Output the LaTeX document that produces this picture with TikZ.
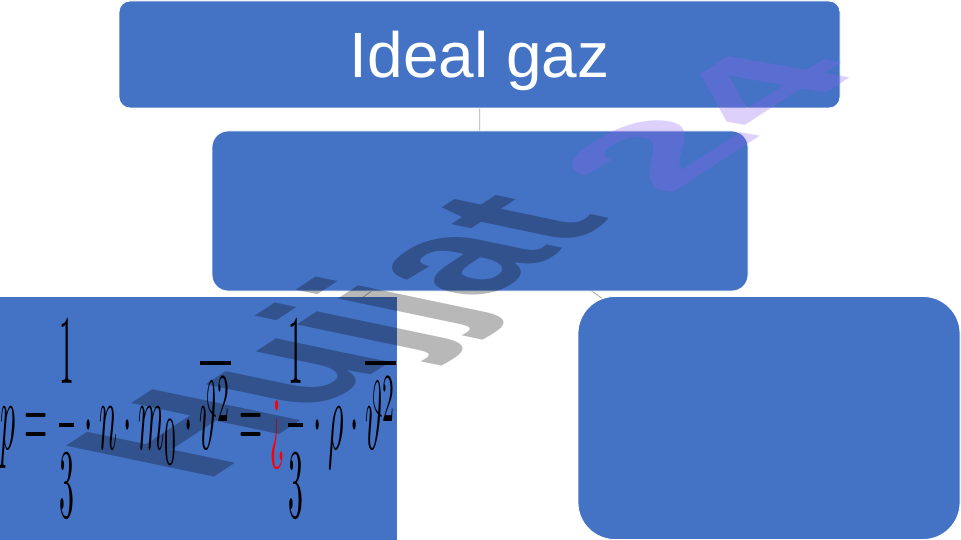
\documentclass[tikz,border=0pt]{standalone}
\usepackage{amsmath}
\usepackage{fontspec}
\usepackage{tikz}
\usetikzlibrary{backgrounds}
\newfontfamily\arialfont{Liberation Sans}
\definecolor{boxblue}{HTML}{4472C4}
\definecolor{markpurple}{RGB}{141,101,242}
\newcommand{\vsq}{\overline{\vartheta^2}}

\begin{document}
\begin{tikzpicture}[x=1pt, y=-1pt,
  box/.style={fill=boxblue, draw=white, line width=0.8pt, inner sep=0pt},
  link/.style={draw=gray!70, line width=0.8pt},
  stamp/.style={transform shape, anchor=base west, inner sep=0pt, text opacity=0.28, font=\arialfont\bfseries\fontsize{100}{100}\selectfont}]
\useasboundingbox (0,0) rectangle (961,540);
\node[box, rounded corners=11pt, minimum width=721pt, minimum height=107pt, text=white, font=\arialfont\fontsize{64}{64}\selectfont, text height=46pt, text depth=0pt] (gaz) at (479.5,54.5) {Ideal gaz};
\node[box, rounded corners=16pt, minimum width=536pt, minimum height=160pt] (mid) at (480,211) {};
\node[box, draw=none, minimum width=397pt, minimum height=243pt] (left) at (198.5,418.5) {};
\node[box, rounded corners=37pt, minimum width=382pt, minimum height=243pt] (right) at (769,418) {};
\node[inner sep=0pt] (formula) at (left.center) {\resizebox*{395pt}{197pt}{$\displaystyle p=\frac{1}{3}\cdot n\cdot m_0\cdot\vsq=\mbox{\color{red}¿}\frac{1}{3}\cdot\rho\cdot\vsq$}};
\begin{scope}[on background layer]
\draw[link] (gaz) -- (mid);
\draw[link] (mid.center) -- (left.center);
\draw[link] (mid.center) -- (right.center);
\end{scope}
\begin{scope}[cm={1.47,0.96,-2.15,0.45,(204,484)}]
\node[stamp] (stampword) at (0,0) {Hujjat};
\end{scope}
\begin{scope}[cm={1.80,1.17,-1.77,0.31,(667,197)}]
\node[stamp, text=markpurple, text opacity=0.3] (stampnum) at (0,0) {24};
\end{scope}
\end{tikzpicture}
\end{document}
